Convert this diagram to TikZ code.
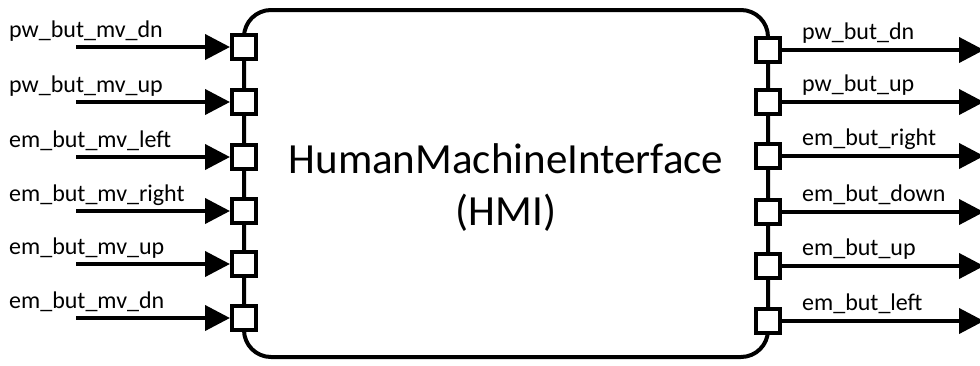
\documentclass[tikz,border=0pt]{standalone}
\usepackage{fontspec}
\setmainfont{Carlito}
\usetikzlibrary{arrows.meta}
\begin{document}
\begin{tikzpicture}[x=1pt,y=-1pt,
  wire/.style={line width=4pt,-{Triangle[length=25pt,width=25pt]}},
  portbox/.style={draw,line width=4pt,fill=white,rectangle,minimum size=24pt,inner sep=0pt},
  sig/.style={anchor=base west,inner sep=0pt,font=\fontsize{24}{29}\selectfont},
  title/.style={anchor=base,inner sep=0pt,font=\fontsize{43}{52}\selectfont}]
  \useasboundingbox (0,0) rectangle (980,365);

  % component body
  \node[draw,line width=4pt,rounded corners=27pt,minimum width=524pt,minimum height=347pt,inner sep=0pt] (hmi) at (506,183.5) {};
  \node[title] (hminame) at (506,173) {HumanMachineInterface};
  \node[title] (hmiabbr) at (506,225) {(HMI)};

  % input ports
  \foreach \name/\y/\lab in {i1/47/pw\_but\_mv\_dn, i2/102/pw\_but\_mv\_up, i3/157/em\_but\_mv\_left,
                             i4/211/em\_but\_mv\_right, i5/264/em\_but\_mv\_up, i6/318/em\_but\_mv\_dn}{
    \node[portbox] (\name) at (244,\y) {};
    \coordinate (\name src) at (76,\y);
    \node[sig] (\name lab) at (9,\y-10) {\lab};
    \draw[wire] (\name src) -- (\name.west);
  }

  % output ports
  \foreach \name/\y/\lab in {o1/50/pw\_but\_dn, o2/102/pw\_but\_up, o3/156/em\_but\_right,
                             o4/212/em\_but\_down, o5/266/em\_but\_up, o6/321/em\_but\_left}{
    \node[portbox] (\name) at (768,\y) {};
    \coordinate (\name dst) at (984,\y);
    \node[sig] (\name lab) at (802,\y-11) {\lab};
    \draw[wire] (\name.east) -- (\name dst);
  }
\end{tikzpicture}
\end{document}
